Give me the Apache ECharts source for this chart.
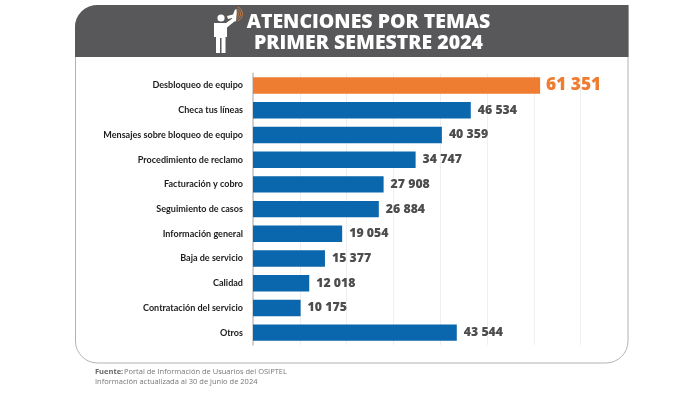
<!DOCTYPE html>
<html><head><meta charset="utf-8">
<style>html,body{margin:0;padding:0;background:#fff}#c{width:700px;height:395px}</style>
<script src="https://cdn.jsdelivr.net/npm/echarts@6/dist/echarts.min.js"></script>
</head><body><div id="c"></div>
<script>
const categories = ["Desbloqueo de equipo","Checa tus líneas","Mensajes sobre bloqueo de equipo","Procedimiento de reclamo","Facturación y cobro","Seguimiento de casos","Información general","Baja de servicio","Calidad","Contratación del servicio","Otros"];
const values = [61351,46534,40359,34747,27908,26884,19054,15377,12018,10175,43544];
const titleLines = ["ATENCIONES POR TEMAS","PRIMER SEMESTRE 2024"];
const footerSource = "Portal de Información de Usuarios del OSIPTEL";
const footerDate = "Información actualizada al 30 de junio de 2024";
const fmt = v => String(v).replace(/\B(?=(\d{3})+$)/g, " ");
const chart = echarts.init(document.getElementById('c'), null, {renderer:'canvas'});
const ink = '#fff';
chart.setOption({
  animation:false,
  grid:{left:253,top:73.2,width:327.6,height:271.8,containLabel:false},
  xAxis:{type:'value',min:0,max:70000,interval:10000,axisLabel:{show:false},axisLine:{show:false},axisTick:{show:false},
    splitLine:{show:true,lineStyle:{color:'#efefef',width:1}}},
  yAxis:{type:'category',inverse:true,data:categories,axisTick:{show:false},
    axisLine:{show:true,lineStyle:{color:'#c4c4c4',width:1.5}},
    axisLabel:{margin:10,color:'#1c1c1c',fontFamily:'Lato',fontSize:9.05,fontWeight:700}},
  series:[{type:'bar',barWidth:16.4,
    data:values.map((v,i)=>({value:v,itemStyle:{color:i===0?'#ee7d31':'#0a66ad'},
      label:{color:i===0?'#ee7d31':'#4d4d4d',fontSize:i===0?17.3:12.3,distance:i===0?6:7}})),
    label:{show:true,position:'right',fontFamily:'"Open Sans"',fontWeight:800,formatter:p=>fmt(p.value)}}],
  graphic:[
    {type:'rect',z:-2,silent:true,shape:{x:75.5,y:5.5,width:552.5,height:357.5,r:[22,0,22,22]},
      style:{fill:'#fff',stroke:'#b3b3b3',lineWidth:1}},
    {type:'rect',z:-1,silent:true,shape:{x:75,y:5,width:553.5,height:52,r:[22,0,0,0]},style:{fill:'#58585a'}},
    {type:'text',z:5,style:{x:368.5,y:22,text:titleLines[0],fill:'#fff',font:'800 19.5px "Open Sans"',textAlign:'center',textVerticalAlign:'middle'}},
    {type:'text',z:5,style:{x:368.5,y:43,text:titleLines[1],fill:'#fff',font:'800 19.5px "Open Sans"',textAlign:'center',textVerticalAlign:'middle'}},
    {type:'circle',z:5,shape:{cx:221,cy:18,r:3.6},style:{fill:ink}},
    {type:'polygon',z:5,shape:{points:[[214,23],[226,23],[233,18],[235,21],[227,27.5],[227,37],[225.5,37],[225.5,53],[221.5,53],[221.5,38],[220,38],[220,53],[216,53],[216,37],[214,37]]},style:{fill:ink}},
    {type:'polygon',z:5,shape:{points:[[227,16],[233,14.5],[235,9.5],[237,9.5],[236,21.5],[234,21],[232,18],[228,19]]},style:{fill:ink}},
    {type:'arc',z:5,shape:{cx:235,cy:14,r:3.5,startAngle:-1.2,endAngle:1.2},style:{fill:'none',stroke:'#c47a42',lineWidth:1}},
    {type:'arc',z:5,shape:{cx:235,cy:14,r:5.5,startAngle:-1.2,endAngle:1.2},style:{fill:'none',stroke:'#c47a42',lineWidth:1}},
    {type:'arc',z:5,shape:{cx:235,cy:14,r:7.5,startAngle:-1.2,endAngle:1.2},style:{fill:'none',stroke:'#c47a42',lineWidth:1}},
    {type:'text',z:5,style:{x:95,y:372,text:'Fuente:',fill:'#666',font:'700 7.5px "Open Sans"',textVerticalAlign:'middle'}},
    {type:'text',z:5,style:{x:124,y:372,text:footerSource,fill:'#777',font:'7.5px "Open Sans"',textVerticalAlign:'middle'}},
    {type:'text',z:5,style:{x:95,y:381.5,text:footerDate,fill:'#777',font:'7.5px "Open Sans"',textVerticalAlign:'middle'}}
  ]
});
</script></body></html>
